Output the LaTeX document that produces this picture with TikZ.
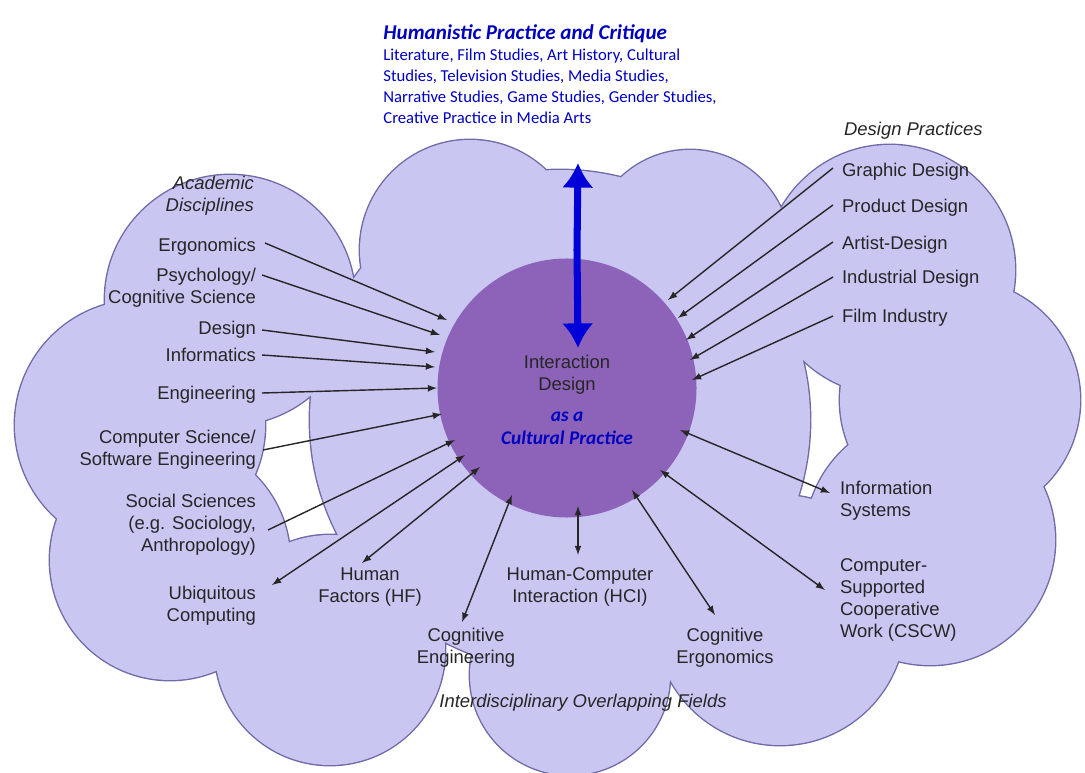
\documentclass[tikz,border=0pt]{standalone}
\usepackage{fontspec}
\usetikzlibrary{arrows.meta}
\setmainfont{Liberation Sans}
\newfontfamily\carl{Carlito}
\begin{document}
\begin{tikzpicture}[x=0.02cm,y=-0.02cm,
 lab/.style={font=\fontsize{10.5}{12.5}\selectfont,text=black!85,inner sep=1pt},
 ital/.style={lab,font=\fontsize{10.5}{12.5}\selectfont\itshape},
 blu/.style={font=\carl\fontsize{9.5}{12}\selectfont,text=blue!75!black,inner sep=0pt,align=left},
 ar/.style={-latex,thick,black!85},
 dar/.style={latex-latex,thick,black!85}]
\useasboundingbox (0,0) rectangle (1085,773);
\definecolor{cl}{HTML}{CAC6F2}
\definecolor{cle}{HTML}{6F6BA8}
\definecolor{ctr}{HTML}{8C63B9}
\def\cloud{%
 (230,300) circle (125) (140,425) circle (125) (170,560) circle (120)
 (330,650) circle (115) (570,675) circle (100) (780,620) circle (125)
 (930,540) circle (125) (960,400) circle (120) (890,270) circle (125)
 (690,250) circle (100) (470,250) circle (110) (560,420) circle (250)}
\draw[cle,line width=1.6pt] \cloud;
\fill[cl] \cloud;
\node[circle,fill=ctr,minimum size=260pt*0.567,inner sep=0] (c) at (567,388) {};
\node[lab,align=center] (ct) at (567,375) {Interaction\\Design};
\node[font=\carl\bfseries\itshape\fontsize{11}{13}\selectfont,text=blue!75!black,align=center] (cc) at (567,428) {as a\\Cultural Practice};
% top blue
\node[blu,anchor=north west] (h) at (383,24) {{\fontsize{12}{14}\selectfont\bfseries\itshape Humanistic Practice and Critique}\\Literature, Film Studies, Art History, Cultural\\Studies, Television Studies, Media Studies,\\Narrative Studies, Game Studies, Gender Studies,\\Creative Practice in Media Arts};
\coordinate (bt) at (578,163); \coordinate (bb) at (578,348);
\draw[line width=4pt,blue!85!black,-{Latex[length=14pt,width=18pt]}] (577,250) -- (bt);
\draw[line width=4pt,blue!85!black,-{Latex[length=14pt,width=18pt]}] (577,250) -- (bb);
% headings
\node[ital,align=right,anchor=east] (ad) at (256,196) {Academic\\Disciplines};
\node[ital,anchor=west] (dp) at (842,131) {Design Practices};
\node[ital] (ifo) at (583,703) {Interdisciplinary Overlapping Fields};
% left
\node[lab,anchor=east] (e1) at (258,247) {Ergonomics};
\node[lab,align=right,anchor=east] (e2) at (258,288) {Psychology/\\Cognitive Science};
\node[lab,anchor=east] (e3) at (258,330) {Design};
\node[lab,anchor=east] (e4) at (258,355) {Informatics};
\node[lab,anchor=east] (e5) at (258,395) {Engineering};
\node[lab,align=right,anchor=east] (e6) at (258,450) {Computer Science/\\Software Engineering};
\node[lab,align=right,anchor=east] (e7) at (258,525) {Social Sciences\\(e.g. Sociology,\\Anthropology)};
\node[lab,align=right,anchor=east] (e8) at (258,606) {Ubiquitous\\Computing};
\node[lab,align=center] (e9) at (370,587) {Human\\Factors (HF)};
\node[lab,align=center] (e10) at (466,648) {Cognitive\\Engineering};
\node[lab,align=center] (e11) at (580,587) {Human-Computer\\Interaction (HCI)};
\node[lab,align=center] (e12) at (725,648) {Cognitive\\Ergonomics};
\node[lab,align=left,anchor=west] (e13) at (838,600) {Computer-\\Supported\\Cooperative\\Work (CSCW)};
\node[lab,align=left,anchor=west] (e14) at (838,501) {Information\\Systems};
\node[lab,anchor=west] (r1) at (840,172) {Graphic Design};
\node[lab,anchor=west] (r2) at (840,208) {Product Design};
\node[lab,anchor=west] (r3) at (840,245) {Artist-Design};
\node[lab,anchor=west] (r4) at (840,279) {Industrial Design};
\node[lab,anchor=west] (r5) at (840,318) {Film Industry};
\draw[ar] (265,243) -- (447,320);
\draw[ar] (262,275) -- (440,335);
\draw[ar] (262,330) -- (435,352);
\draw[ar] (262,355) -- (435,367);
\draw[ar] (262,393) -- (437,388);
\draw[ar] (263,450) -- (442,414);
\draw[ar] (268,530) -- (455,440);
\draw[dar] (272,585) -- (465,455);
\draw[dar] (362,563) -- (480,467);
\draw[dar] (462,622) -- (512,495);
\draw[dar] (578,555) -- (578,506);
\draw[dar] (715,615) -- (632,490);
\draw[dar] (825,590) -- (660,470);
\draw[dar] (830,493) -- (680,430);
\draw[ar] (833,168) -- (668,300);
\draw[ar] (833,205) -- (678,318);
\draw[ar] (833,242) -- (686,340);
\draw[ar] (833,277) -- (690,360);
\draw[ar] (833,316) -- (692,380);
\end{tikzpicture}
\end{document}
